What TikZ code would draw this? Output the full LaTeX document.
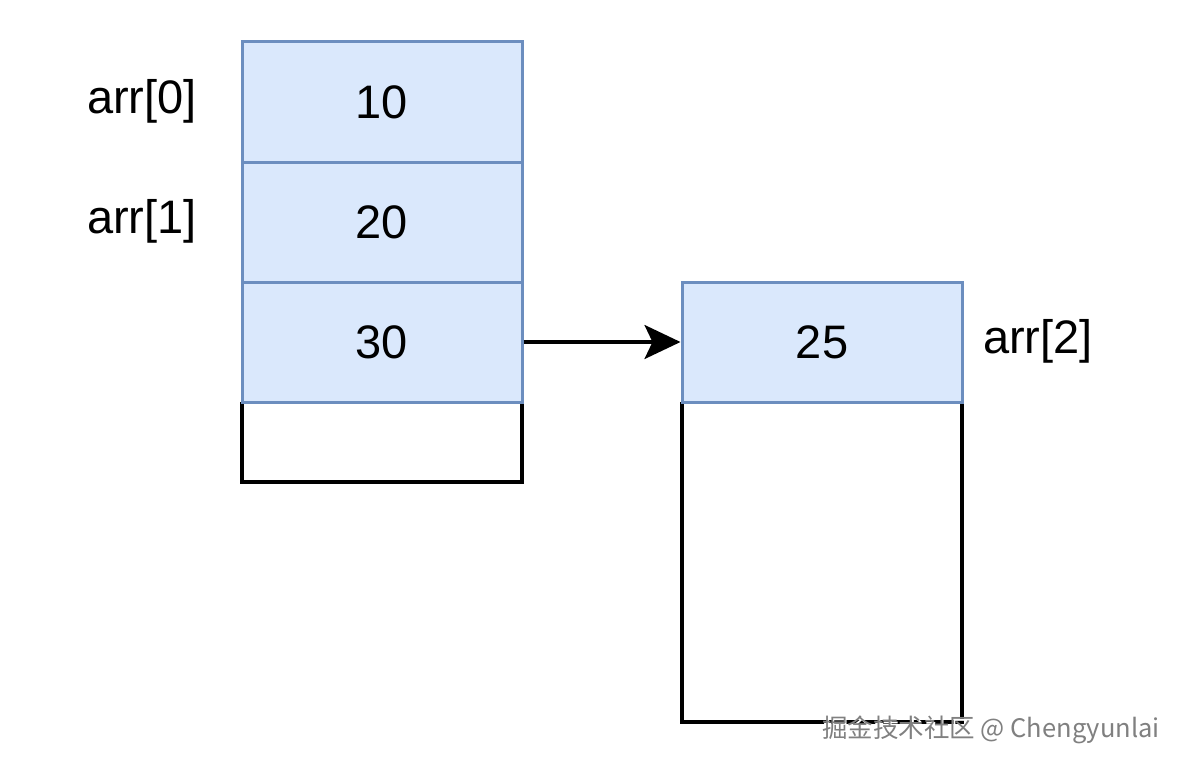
\documentclass[tikz,border=0pt]{standalone}
\usepackage{fontspec}
\setmainfont{Liberation Sans}
\newfontfamily\cjk{Noto Sans CJK SC}
\usetikzlibrary{arrows.meta}
\definecolor{cellfill}{HTML}{DAE8FC}
\definecolor{celldraw}{HTML}{6C8EBF}
\begin{document}
\begin{tikzpicture}[x=1pt,y=-1pt,
  cell/.style={draw=celldraw,fill=cellfill,line width=3pt,minimum width=280pt,minimum height=120pt,inner sep=0pt,font=\fontsize{47}{50}\selectfont},
  blank/.style={draw=black,line width=3.5pt},
  lbl/.style={font=\fontsize{47}{50}\selectfont,inner sep=0pt},
  link/.style={line width=3.2pt,-{Stealth[length=36pt,width=34pt,inset=8pt]}},
  wmark/.style={font=\cjk\fontsize{25.5}{27}\selectfont,inner sep=0pt}]
\useasboundingbox[fill=white] (0,0) rectangle (1180,768);
% left column
\draw[blank] (242,402) -- (242,482) -- (522,482) -- (522,402);
\node[cell] (c0) at (382,102) {10};
\node[cell] (c1) at (382,222) {20};
\node[cell] (c2) at (382,342) {30};
% right column
\draw[blank] (682,402) -- (682,722) -- (962,722) -- (962,402);
\node[cell] (d0) at (822,342) {25};
% labels
\node[lbl] (l0) at (142,101) {arr[0]};
\node[lbl] (l1) at (142,221) {arr[1]};
\node[lbl] (l2) at (1038,341) {arr[2]};
% arrow
\draw[link] (c2.east) -- (d0.west);
% watermark
\node[wmark,text=white] (wm0) at (992.5,731.5) {掘金技术社区 @ Chengyunlai};
\node[wmark,text=black!50] (wm) at (991,730) {掘金技术社区 @ Chengyunlai};
\end{tikzpicture}
\end{document}
